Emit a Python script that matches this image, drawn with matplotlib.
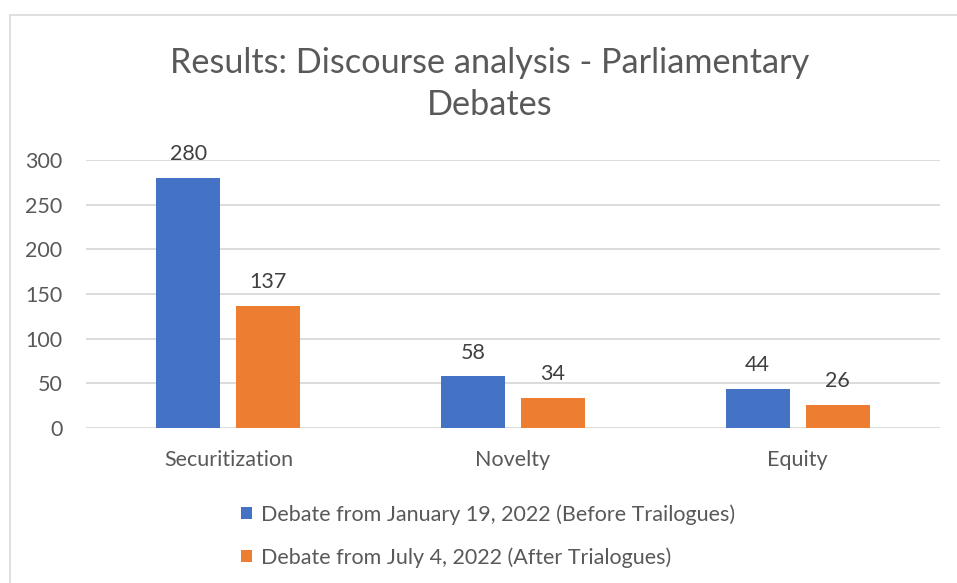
import numpy as np
import matplotlib.pyplot as plt
from matplotlib.patches import Rectangle

categories = ["Securitization", "Novelty", "Equity"]
before_vals = [280, 58, 44]
after_vals = [137, 34, 26]
series_names = ["Debate from January 19, 2022 (Before Trailogues)",
                "Debate from July 4, 2022 (After Trialogues)"]
y_ticks = [0, 50, 100, 150, 200, 250, 300]

BLUE = "#4472C4"
ORANGE = "#ED7D31"
TEXT = "#595959"
GRID = "#D9D9D9"

plt.rcParams["font.family"] = ["Lato", "DejaVu Sans"]

fig = plt.figure(figsize=(9.57, 5.83), dpi=100)
ax = fig.add_axes([0.0899, 0.2659, 0.8924, 0.4597])

# chart-area frame (only left and top edges fall inside the canvas)
fig.patches.append(Rectangle((10 / 957, -0.5), 2.0, 1 - 15 / 583 + 0.5,
                             transform=fig.transFigure, fill=False,
                             edgecolor=GRID, linewidth=1.2, zorder=0))

x = np.arange(len(categories))
w = 0.225
off = 0.1405
b1 = ax.bar(x - off, before_vals, w, color=BLUE, label=series_names[0], zorder=3)
b2 = ax.bar(x + off, after_vals, w, color=ORANGE, label=series_names[1], zorder=3)

for bars, vals in ((b1, before_vals), (b2, after_vals)):
    for r, v in zip(bars, vals):
        ax.annotate(f"{v}", (r.get_x() + r.get_width() / 2, v),
                    xytext=(0, 17), textcoords="offset points",
                    ha="center", va="center", fontsize=15.5, color="#404040")

ax.set_xlim(-0.5, 2.5)
ax.set_ylim(0, 300)
ax.set_yticks(y_ticks)
ax.set_xticks(x)
ax.set_xticklabels(categories)
ax.tick_params(axis="both", length=0, labelsize=15.5, labelcolor=TEXT)
ax.tick_params(axis="y", pad=17)
ax.tick_params(axis="x", pad=16)
ax.grid(axis="y", color=GRID, linewidth=1.3, zorder=0)
for s in ax.spines.values():
    s.set_visible(False)
ax.set_axisbelow(True)

fig.text(0.512, 1 - 84 / 583, "Results: Discourse analysis - Parliamentary\nDebates",
         ha="center", va="center", fontsize=24.7, color=TEXT, linespacing=1.42)

fig.legend(handles=[b1, b2], loc="upper left",
           bbox_to_anchor=(222 / 957, 1 - 485 / 583), frameon=False,
           fontsize=15.5, labelcolor=TEXT, handlelength=0.5, handleheight=0.5,
           handletextpad=0.42, labelspacing=1.04)

fig.savefig("out.png", dpi=100)
